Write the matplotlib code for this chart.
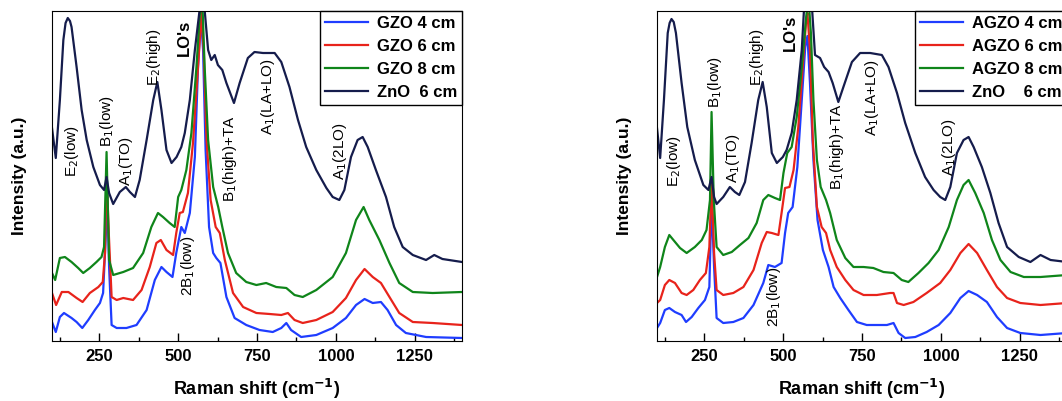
import numpy as np
import matplotlib.pyplot as plt

plt.rcParams['font.family'] = ['Liberation Sans', 'DejaVu Sans']

# ---- left panel (GZO) : Raman shift (cm-1) / intensity (a.u.) ----
gzo4_x = [100, 112, 125, 138, 162, 178, 196, 215, 236, 252, 262, 271, 274, 281, 289, 305, 336, 368,
          400, 426, 447, 463, 482, 494, 510, 521, 537, 553, 563, 572, 579, 587, 598, 611, 621, 634,
          653, 679, 716, 758, 800, 827, 843, 858, 890, 938, 990, 1032, 1064, 1091, 1117, 1143, 1164,
          1191, 1222, 1286, 1400]
gzo4_y = [19, 9, 24, 28, 23, 19, 13, 21, 31, 38, 48, 108, 164, 74, 16, 13, 13, 16,
          31, 61, 74, 69, 64, 88, 114, 108, 128, 184, 274, 324, 291, 191, 114, 88, 83, 78,
          44, 23, 16, 11, 9, 13, 18, 11, 4, 6, 13, 23, 36, 42, 38, 39, 31,
          16, 8, 4, 3]

gzo6_x = [100, 113, 131, 152, 178, 197, 220, 247, 261, 268, 273, 280, 289, 305, 326, 357, 384, 410,
          431, 445, 463, 484, 494, 505, 515, 531, 547, 563, 574, 581, 590, 603, 619, 632, 648, 674,
          706, 748, 790, 827, 848, 869, 895, 938, 990, 1032, 1064, 1091, 1117, 1143, 1170, 1201,
          1244, 1307, 1400]
gzo6_y = [48, 36, 49, 49, 43, 39, 48, 54, 59, 88, 168, 108, 44, 41, 43, 41, 51, 74,
          98, 101, 91, 86, 108, 128, 129, 148, 198, 274, 328, 291, 201, 141, 114, 108, 81, 48,
          34, 28, 27, 26, 28, 21, 18, 21, 29, 43, 61, 72, 64, 58, 44, 28,
          19, 18, 16]

gzo8_x = [100, 110, 125, 141, 162, 183, 199, 220, 241, 257, 265, 273, 281, 294, 326, 357, 389, 415,
          436, 452, 473, 489, 500, 510, 526, 542, 558, 568, 576, 584, 595, 611, 627, 640, 658, 684,
          716, 748, 779, 811, 843, 869, 895, 938, 990, 1032, 1064, 1088, 1106, 1138, 1170, 1201,
          1244, 1307, 1400]
gzo8_y = [68, 61, 83, 84, 79, 73, 68, 73, 79, 84, 94, 189, 81, 66, 69, 73, 88, 114,
          128, 124, 118, 114, 144, 151, 171, 208, 274, 324, 345, 274, 201, 154, 134, 114, 88, 68,
          59, 56, 58, 54, 53, 46, 44, 51, 64, 88, 121, 134, 121, 101, 78, 58,
          49, 48, 49]

zno_l_x = [100, 112, 125, 136, 143, 150, 157, 162, 178, 194, 210, 231, 252, 265, 273, 281, 294, 315,
           334, 347, 363, 378, 400, 421, 434, 447, 463, 479, 495, 510, 521, 537, 553, 568, 578, 584,
           595, 605, 616, 626, 640, 653, 677, 695, 721, 742, 769, 806, 827, 853, 880, 906, 938, 970,
           990, 1011, 1027, 1048, 1069, 1085, 1101, 1127, 1159, 1185, 1212, 1244, 1286, 1312, 1338,
           1400]
zno_l_y = [213, 183, 241, 301, 318, 323, 320, 314, 274, 231, 201, 174, 156, 151, 164, 148, 137, 149,
           154, 149, 144, 161, 201, 241, 259, 231, 191, 178, 184, 194, 208, 241, 291, 331, 400, 331,
           291, 281, 286, 276, 271, 258, 238, 258, 283, 289, 288, 288, 279, 254, 221, 194, 171, 153,
           144, 141, 151, 184, 201, 204, 194, 171, 144, 114, 94, 86, 81, 86, 82,
           79]

# ---- right panel (AGZO) ----
agzo4_x = [100, 110, 125, 139, 157, 178, 192, 210, 231, 252, 266, 273, 281, 289, 310, 342, 374, 406,
           437, 453, 474, 495, 506, 516, 530, 545, 559, 570, 577, 585, 596, 609, 626, 644, 660, 681,
           707, 734, 765, 797, 829, 850, 866, 887, 919, 955, 993, 1030, 1062, 1088, 1115, 1146,
           1178, 1210, 1252, 1316, 1400]
agzo4_y = [13, 18, 31, 33, 29, 26, 19, 24, 33, 41, 54, 141, 74, 23, 18, 19, 23, 36,
           58, 76, 74, 78, 108, 128, 134, 174, 241, 294, 305, 258, 181, 121, 91, 74, 54, 43,
           31, 19, 16, 16, 16, 18, 8, 3, 4, 9, 16, 28, 43, 50, 46, 39,
           24, 13, 8, 6, 8]

agzo6_x = [100, 110, 125, 139, 157, 178, 194, 215, 236, 255, 266, 273, 281, 289, 310, 342, 374, 406,
           432, 448, 464, 485, 495, 506, 520, 533, 548, 562, 573, 577, 585, 594, 607, 622, 636, 649,
           670, 697, 723, 755, 797, 839, 850, 861, 882, 913, 955, 998, 1030, 1062, 1088, 1115, 1146,
           1178, 1210, 1252, 1316, 1400]
agzo6_y = [38, 41, 56, 61, 58, 48, 46, 51, 61, 68, 94, 160, 88, 51, 46, 48, 54, 71,
           98, 109, 108, 106, 128, 153, 154, 171, 214, 274, 321, 328, 291, 201, 134, 114, 108, 91,
           74, 61, 51, 46, 46, 48, 48, 38, 36, 39, 48, 58, 71, 88, 97, 88, 71,
           54, 43, 38, 36, 38]

agzo8_x = [100, 110, 125, 139, 152, 173, 194, 220, 242, 257, 268, 273, 280, 289, 310, 337, 363, 390,
           416, 437, 453, 474, 490, 501, 513, 527, 543, 559, 573, 580, 588, 596, 607, 619, 636, 649,
           670, 697, 723, 755, 786, 818, 850, 876, 897, 929, 961, 993, 1025, 1051, 1072, 1088, 1109,
           1136, 1162, 1189, 1221, 1263, 1316, 1400]
agzo8_y = [64, 74, 94, 106, 101, 93, 88, 94, 101, 111, 141, 229, 141, 94, 86, 89, 96, 103,
           118, 141, 146, 143, 141, 168, 188, 194, 224, 274, 324, 345, 308, 241, 181, 154, 141, 128,
           101, 83, 74, 74, 73, 69, 68, 61, 59, 68, 78, 91, 114, 141, 156, 161, 148,
           128, 101, 81, 69, 64, 64, 66]

zno_r_x = [100, 110, 122, 134, 140, 146, 153, 160, 178, 196, 220, 247, 263, 273, 281, 289, 310, 331,
           347, 361, 379, 400, 421, 435, 448, 464, 480, 499, 511, 527, 543, 559, 578, 601, 617, 630,
           644, 657, 675, 691, 718, 744, 776, 813, 834, 861, 887, 919, 950, 977, 998, 1014, 1030,
           1051, 1072, 1088, 1104, 1130, 1157, 1183, 1210, 1247, 1284, 1316, 1348, 1400]
zno_r_y = [213, 183, 241, 308, 318, 322, 319, 308, 258, 214, 181, 156, 151, 164, 144, 137, 144, 154,
           149, 146, 159, 198, 241, 259, 234, 188, 178, 184, 191, 208, 241, 291, 400, 286, 283, 274,
           269, 258, 239, 254, 279, 288, 288, 286, 274, 248, 218, 188, 164, 151, 144, 141, 154,
           188, 201, 204, 194, 174, 148, 118, 94, 84, 79, 86, 81, 79]

left_labels = ['GZO 4 cm', 'GZO 6 cm', 'GZO 8 cm', 'ZnO  6 cm']
right_labels = ['AGZO 4 cm', 'AGZO 6 cm', 'AGZO 8 cm', 'ZnO    6 cm']

# peak assignments: (text, x, y)
left_peaks = [('E$_2$(low)', 164, 190), ('B$_1$(low)', 273, 220), ('A$_1$(TO)', 336, 180),
              ('E$_2$(high)', 423, 284), ('B$_1$(high)+TA', 663, 182), ('A$_1$(LA+LO)', 785, 244),
              ('A$_1$(2LO)', 1013, 190), ('2B$_1$(low)', 531, 75)]
right_peaks = [('E$_2$(low)', 154, 180), ('B$_1$(low)', 284, 259), ('A$_1$(TO)', 340, 183),
               ('E$_2$(high)', 416, 284), ('B$_1$(high)+TA', 672, 194), ('A$_1$(LA+LO)', 781, 243),
               ('A$_1$(2LO)', 1025, 194), ('2B$_1$(low)', 471, 44)]
left_lo = (521, 303)
right_lo = (524, 308)

colors = ['#1f3dff', '#e8231b', '#0f851a', '#151c4c']


def draw_panel(ax, series, labels, peaks, lo):
    for (x, y), lab, c in zip(series, labels, colors):
        ax.plot(x, y, color=c, lw=1.6, label=lab)
    for txt, x, y in peaks:
        ax.text(x, y, txt, rotation=90, ha='center', va='center', fontsize=11)
    ax.text(lo[0], lo[1], "LO's", rotation=90, ha='center', va='center',
            fontsize=12, fontweight='bold')
    ax.set_xlim(100, 1400)
    ax.set_ylim(0, 330)
    ax.set_yticks([])
    ax.set_xticks([250, 500, 750, 1000, 1250])
    ax.set_xticks([125, 375, 625, 875, 1125, 1375], minor=True)
    ax.tick_params(axis='x', direction='in', length=6, width=1, labelsize=12, pad=6)
    ax.tick_params(axis='x', which='minor', direction='in', length=3, width=1)
    for lbl in ax.get_xticklabels():
        lbl.set_fontweight('bold')
    ax.set_xlabel('Raman shift (cm$^{\\mathbf{-1}}$)', fontsize=13, fontweight='bold', labelpad=9)
    ax.set_ylabel('Intensity (a.u.)', fontsize=12.5, fontweight='bold', labelpad=18)
    leg = ax.legend(loc='upper right', prop={'weight': 'bold', 'size': 12},
                    fancybox=False, edgecolor='black', framealpha=1, handlelength=2.6,
                    borderaxespad=0, labelspacing=0.48, borderpad=0.3, handletextpad=0.5)
    leg.get_frame().set_linewidth(1)


fig = plt.figure(figsize=(10.62, 4.01), dpi=100)
ax1 = fig.add_axes([52 / 1062, 60 / 401, 410 / 1062, 330 / 401])
ax2 = fig.add_axes([657 / 1062, 60 / 401, 410 / 1062, 330 / 401])

draw_panel(ax1, [(gzo4_x, gzo4_y), (gzo6_x, gzo6_y), (gzo8_x, gzo8_y), (zno_l_x, zno_l_y)],
           left_labels, left_peaks, left_lo)
draw_panel(ax2, [(agzo4_x, agzo4_y), (agzo6_x, agzo6_y), (agzo8_x, agzo8_y), (zno_r_x, zno_r_y)],
           right_labels, right_peaks, right_lo)

fig.savefig('out.png', dpi=100)
